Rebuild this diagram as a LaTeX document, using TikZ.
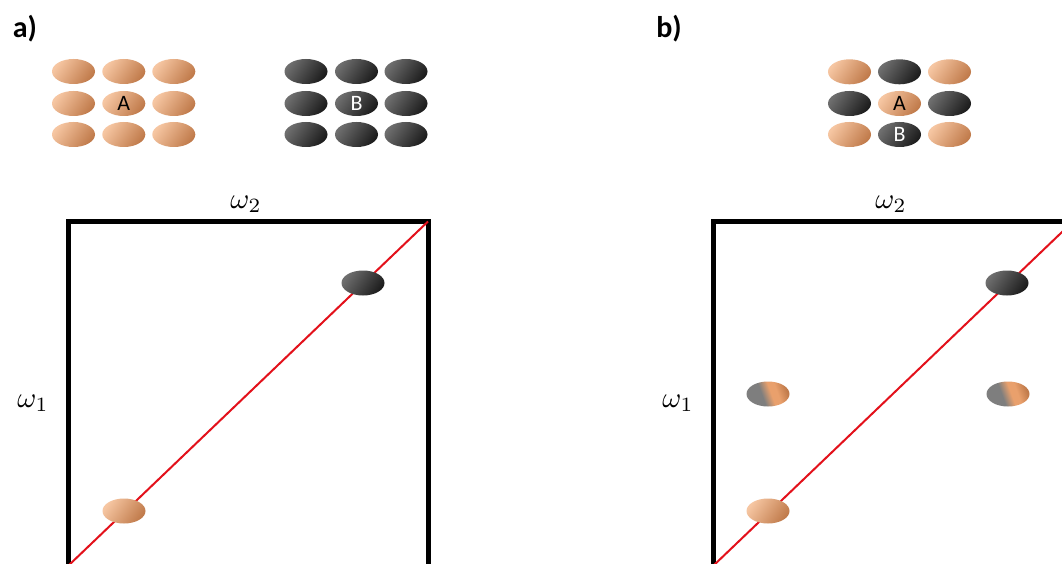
\documentclass[tikz,border=0pt]{standalone}
\usepackage{fontspec}
\setmainfont{Carlito}
\usetikzlibrary{shapes.geometric}
\definecolor{pl}{HTML}{F6C6A2}
\definecolor{pm}{HTML}{EFB088}
\definecolor{pd}{HTML}{C07A4A}
\definecolor{po}{HTML}{E9A06C}
\definecolor{dl}{HTML}{6E6E6E}
\definecolor{dm}{HTML}{454545}
\definecolor{dd}{HTML}{1C1C1C}
\definecolor{gm}{HTML}{7E7E7E}
\definecolor{redl}{HTML}{E3111B}
\pgfdeclarehorizontalshading{mixsh}{100bp}{color(0bp)=(gm); color(25bp)=(gm); color(42bp)=(gm); color(54bp)=(po); color(62bp)=(po); color(75bp)=(pd); color(100bp)=(pd)}
\newcommand{\omlabtext}[1]{\scalebox{2.9}{$\omega_{#1}$}}
\tikzset{
  ell/.style={ellipse, inner sep=0pt, minimum width=43pt, minimum height=25pt,
    font=\fontsize{22}{24}\selectfont},
  light/.style={ell, left color=pl, middle color=pm, right color=pd, shading angle=55, text=black},
  dark/.style={ell, left color=dl, middle color=dm, right color=dd, shading angle=55, text=white},
  mixed/.style={ell, shading=mixsh, shading angle=20},
  frame/.style={line width=5pt, line join=miter},
  diag/.style={redl, line width=2pt},
  omlab/.style={inner sep=0pt},
  panel/.style={font=\fontsize{30}{32}\selectfont\bfseries, inner sep=0pt}
}
\begin{document}
\begin{tikzpicture}[x=1pt,y=-1pt]
\useasboundingbox (0,0) rectangle (1062,564);
\clip (0,0) rectangle (1062,564);
\fill[white] (0,0) rectangle (1062,564);

% panel labels
\node[panel] (la) at (25,29) {a)};
\node[panel] (lb) at (669,29) {b)};

% grid a (light)
\foreach \c/\x in {1/73.5,2/123.8,3/173.8}{
  \foreach \r/\y in {1/71.5,2/103.5,3/134.5}{
    \ifnum\c=2 \ifnum\r=2 \else \node[light] (a\c\r) at (\x,\y) {}; \fi
    \else \node[light] (a\c\r) at (\x,\y) {}; \fi
  }
}
\node[light] (A1) at (123.8,103.5) {A};

% grid a (dark)
\foreach \c/\x in {1/306,2/356.5,3/406}{
  \foreach \r/\y in {1/71.5,2/103.5,3/134.5}{
    \ifnum\c=2 \ifnum\r=2 \else \node[dark] (b\c\r) at (\x,\y) {}; \fi
    \else \node[dark] (b\c\r) at (\x,\y) {}; \fi
  }
}
\node[dark] (B1) at (356.5,103.5) {B};

% grid b (mixed)
\node[light] (c11) at (849.5,71.8) {};
\node[dark]  (c21) at (899.5,71.8) {};
\node[light] (c31) at (949.5,71.8) {};
\node[dark]  (c12) at (849.5,103.5) {};
\node[light] (A2)  at (899.5,103.5) {A};
\node[dark]  (c32) at (949.5,103.5) {};
\node[light] (c13) at (849.5,134.5) {};
\node[dark]  (B2)  at (899.5,134.5) {B};
\node[light] (c33) at (949.5,134.5) {};

% panel a plot
\coordinate (aBL) at (68,566);
\coordinate (aTR) at (428,221.5);
\draw[frame] (68,600) -- (68,221.5) -- (428,221.5) -- (428,600);
\draw[diag] (aBL) -- (aTR);
\node[dark] (pa1) at (363,283) {};
\node[light] (pa2) at (124,511) {};
\node[omlab] (w2a) at (246,204) {\omlabtext{2}};
\node[omlab] (w1a) at (33,403) {\omlabtext{1}};

% panel b plot
\coordinate (bBL) at (713,566);
\coordinate (bTR) at (1073,221.5);
\draw[frame] (713,600) -- (713,221.5) -- (1073,221.5) -- (1073,600);
\draw[diag] (bBL) -- (bTR);
\node[dark] (pb1) at (1007,283) {};
\node[light] (pb2) at (768,511) {};
\node[mixed] (pb3) at (768,394) {};
\node[mixed] (pb4) at (1008,394) {};
\node[omlab] (w2b) at (891,204) {\omlabtext{2}};
\node[omlab] (w1b) at (678,403) {\omlabtext{1}};
\end{tikzpicture}
\end{document}
